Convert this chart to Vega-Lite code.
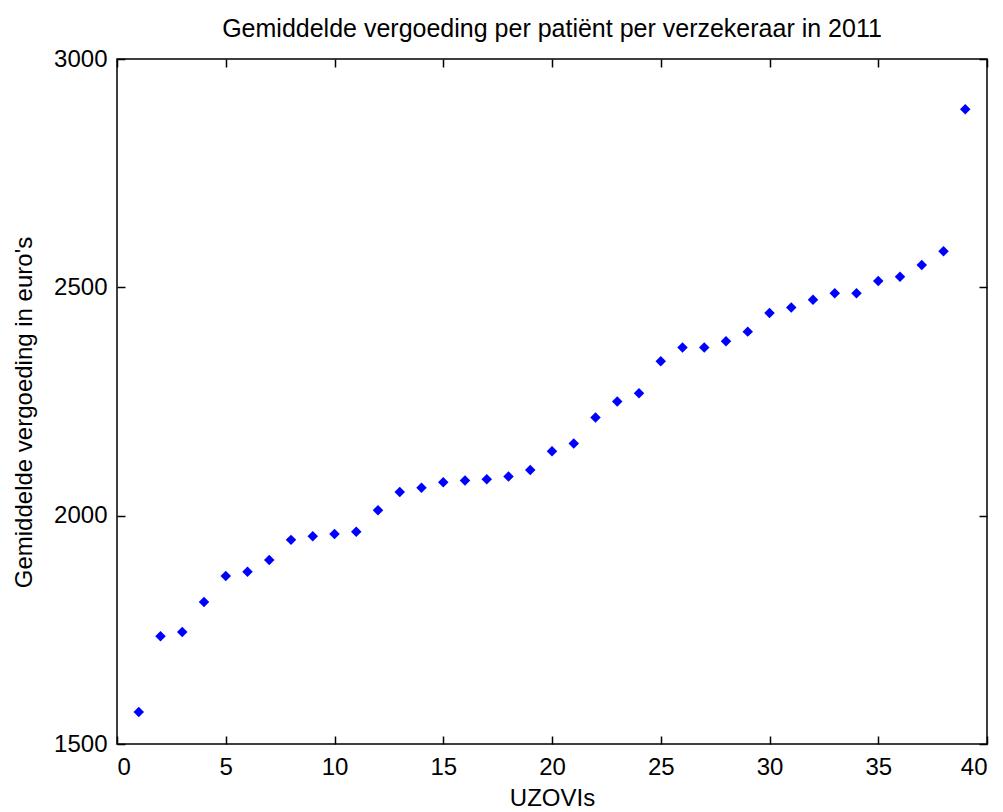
{
  "$schema": "https://vega.github.io/schema/vega-lite/v6.json",
  "width": 870,
  "height": 685,
  "autosize": {"type": "none"},
  "padding": {"left": 117, "top": 59, "right": 16, "bottom": 68},
  "background": "white",
  "title": {
    "text": "Gemiddelde vergoeding per patiënt per verzekeraar in 2011",
    "font": "Liberation Sans",
    "fontSize": 25,
    "fontWeight": "normal",
    "color": "black",
    "offset": 5,
    "anchor": "middle"
  },
  "config": {
    "view": {"stroke": "black", "strokeWidth": 1.5},
    "axis": {
      "labelFont": "Liberation Sans",
      "labelFontSize": 24,
      "labelColor": "black",
      "titleFont": "Liberation Sans",
      "titleFontSize": 24,
      "titleFontWeight": "normal",
      "titleColor": "black",
      "domain": false,
      "grid": false,
      "tickColor": "black",
      "tickSize": -8,
      "tickWidth": 1.5,
      "format": "d"
    }
  },
  "data": {
    "values": [
      {"uzovi": 1, "v": 1570},
      {"uzovi": 2, "v": 1736},
      {"uzovi": 3, "v": 1745},
      {"uzovi": 4, "v": 1811},
      {"uzovi": 5, "v": 1868},
      {"uzovi": 6, "v": 1877},
      {"uzovi": 7, "v": 1903},
      {"uzovi": 8, "v": 1947},
      {"uzovi": 9, "v": 1955},
      {"uzovi": 10, "v": 1960},
      {"uzovi": 11, "v": 1965},
      {"uzovi": 12, "v": 2012},
      {"uzovi": 13, "v": 2052},
      {"uzovi": 14, "v": 2061},
      {"uzovi": 15, "v": 2073},
      {"uzovi": 16, "v": 2077},
      {"uzovi": 17, "v": 2080},
      {"uzovi": 18, "v": 2086},
      {"uzovi": 19, "v": 2100},
      {"uzovi": 20, "v": 2141},
      {"uzovi": 21, "v": 2158},
      {"uzovi": 22, "v": 2215},
      {"uzovi": 23, "v": 2250},
      {"uzovi": 24, "v": 2268},
      {"uzovi": 25, "v": 2338},
      {"uzovi": 26, "v": 2368},
      {"uzovi": 27, "v": 2368},
      {"uzovi": 28, "v": 2382},
      {"uzovi": 29, "v": 2403},
      {"uzovi": 30, "v": 2444},
      {"uzovi": 31, "v": 2456},
      {"uzovi": 32, "v": 2473},
      {"uzovi": 33, "v": 2487},
      {"uzovi": 34, "v": 2487},
      {"uzovi": 35, "v": 2514},
      {"uzovi": 36, "v": 2523},
      {"uzovi": 37, "v": 2549},
      {"uzovi": 38, "v": 2579},
      {"uzovi": 39, "v": 2890}
    ]
  },
  "layer": [
    {
      "mark": {"type": "point", "shape": "diamond", "filled": true, "color": "#0000ff", "size": 110, "opacity": 1},
      "encoding": {
        "x": {
          "field": "uzovi", "type": "quantitative",
          "scale": {"domain": [0, 40], "nice": false, "zero": false},
          "axis": {"title": "UZOVIs", "values": [0, 5, 10, 15, 20, 25, 30, 35, 40], "labelPadding": 19, "titleY": 42, "titleBaseline": "top", "titlePadding": 0}
        },
        "y": {
          "field": "v", "type": "quantitative",
          "scale": {"domain": [1500, 3000], "nice": false, "zero": false},
          "axis": {"title": "Gemiddelde vergoeding in euro's", "values": [1500, 2000, 2500, 3000], "labelPadding": 18, "titleX": -86, "titleY": 353, "titleAngle": 270, "titleBaseline": "alphabetic", "titleAlign": "center"}
        }
      }
    },
    {
      "mark": {"type": "point", "opacity": 0},
      "encoding": {
        "x": {
          "field": "uzovi", "type": "quantitative",
          "axis": {"orient": "top", "title": null, "labels": false, "values": [0, 5, 10, 15, 20, 25, 30, 35, 40]}
        },
        "y": {
          "field": "v", "type": "quantitative",
          "axis": {"orient": "right", "title": null, "labels": false, "values": [1500, 2000, 2500, 3000]}
        }
      }
    }
  ],
  "resolve": {"axis": {"x": "independent", "y": "independent"}}
}
